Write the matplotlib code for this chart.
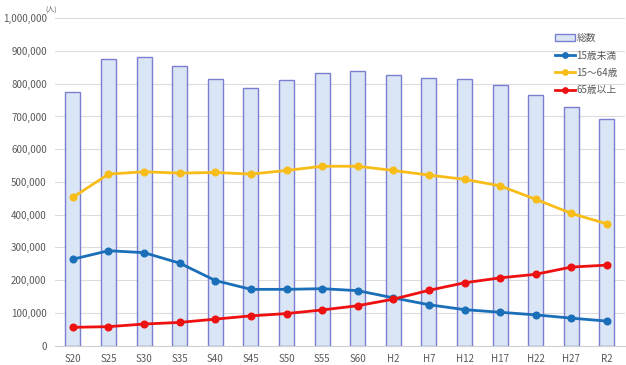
import matplotlib
matplotlib.use('Agg')
import matplotlib.pyplot as plt
import numpy as np
from matplotlib.ticker import FuncFormatter

plt.rcParams['font.family'] = ['Noto Sans CJK JP', 'DejaVu Sans']

# data
years = ['S20', 'S25', 'S30', 'S35', 'S40', 'S45', 'S50', 'S55', 'S60',
         'H2', 'H7', 'H12', 'H17', 'H22', 'H27', 'R2']
total = [776000, 876000, 883000, 855000, 815000, 788000, 810000, 833000,
         838000, 826000, 818000, 815000, 796000, 766000, 729000, 692000]
under15 = [264000, 290000, 284000, 252000, 199000, 172000, 172000, 174000,
           168000, 146000, 125000, 110000, 102000, 94000, 84000, 75000]
age15_64 = [453000, 524000, 531000, 527000, 529000, 524000, 535000, 548000,
            548000, 535000, 521000, 508000, 488000, 447000, 404000, 372000]
over65 = [56000, 58000, 66000, 71000, 81000, 91000, 98000, 109000,
          122000, 142000, 169000, 192000, 207000, 218000, 240000, 246000]
yticks = np.arange(0, 1000001, 100000)

fig = plt.figure(figsize=(6.26, 3.65), dpi=100)
ax = fig.add_axes([0.088, 0.053, 0.91, 0.897])

x = np.arange(len(years))
b = ax.bar(x, total, width=0.42, color='#dae5f5', edgecolor='#7b7fcf',
           linewidth=1.0, label='総数', zorder=2)
l1, = ax.plot(x, under15, color='#1a6fb8', marker='o', markersize=4.8,
              linewidth=2, label='15歳未満', zorder=3)
l2, = ax.plot(x, age15_64, color='#f9bd1a', marker='o', markersize=4.8,
              linewidth=2, label='15～64歳', zorder=3)
l3, = ax.plot(x, over65, color='#ee1111', marker='o', markersize=4.8,
              linewidth=2, label='65歳以上', zorder=3)

ax.set_xlim(-0.5, len(years) - 0.5)
ax.set_ylim(0, 1000000)
ax.set_yticks(yticks)
ax.yaxis.set_major_formatter(FuncFormatter(lambda v, p: f'{int(v):,}'))
ax.set_xticks(x)
ax.set_xticklabels(years)
ax.grid(axis='y', color='#dcdcdc', linewidth=0.8, zorder=0)
ax.set_axisbelow(True)
for s in ['top', 'right', 'left']:
    ax.spines[s].set_visible(False)
ax.spines['bottom'].set_color('#d0d0d0')
ax.tick_params(axis='both', length=0, labelsize=7, colors='#595959', pad=6)

fig.text(0.073, 0.968, '(人)', fontsize=5, color='#595959')

leg = ax.legend(handles=[b, l1, l2, l3], loc='upper right',
                bbox_to_anchor=(1.0, 0.975), frameon=False,
                fontsize=7, labelspacing=0.75, handlelength=2.0,
                handletextpad=0.2, borderaxespad=0.3, markerscale=0.8)
for t in leg.get_texts():
    t.set_color('#595959')

fig.savefig('out.png', dpi=100)
